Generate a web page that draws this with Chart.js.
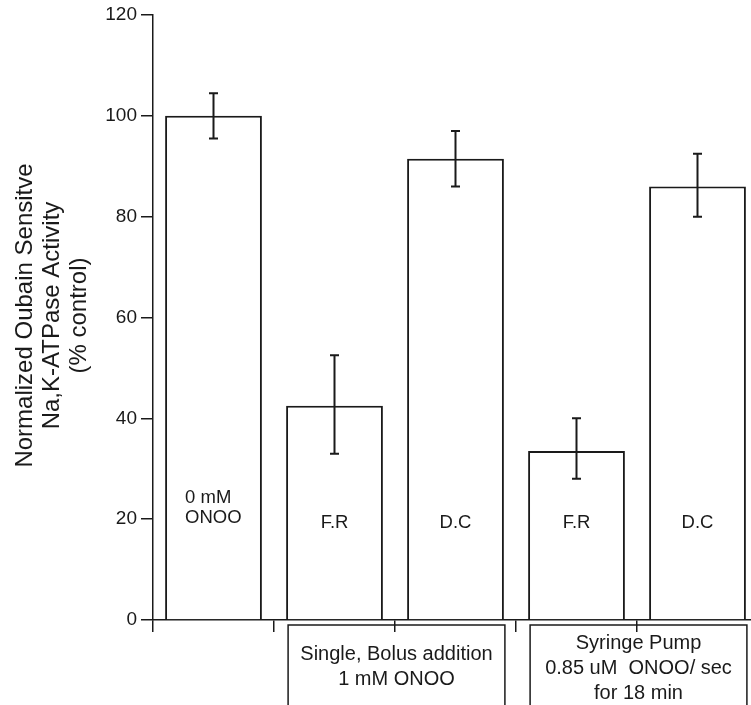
<!DOCTYPE html>
<html><head><meta charset="utf-8">
<script src="https://cdn.jsdelivr.net/npm/chart.js@4/dist/chart.umd.min.js"></script>
<style>
html,body{margin:0;padding:0;background:#fff;overflow:hidden;width:751px;height:705px}
#wrap{position:relative;width:760px;height:705px}
</style>
</head><body><div id="wrap"><canvas id="c" width="760" height="705"></canvas></div>
<script>
// ---- data ----
const categories = ['0 mM ONOO', 'F.R', 'D.C', 'F.R', 'D.C'];
const barLabels = [['0 mM', 'ONOO'], ['F.R'], ['D.C'], ['F.R'], ['D.C']];
const activity = [100, 42.5, 91.5, 33.5, 86];
const errUpper = [104.5, 52.5, 97, 40, 92.5];
const errLower = [95.5, 33, 86, 28, 80];
const yTickValues = [0, 20, 40, 60, 80, 100, 120];
const yTitle = ['Normalized Oubain Sensitve', 'Na,K-ATPase Activity', '(% control)'];
const groupFrom = [1, 3];
const groupTo = [2, 4];
const groupText = [['Single, Bolus addition', '1 mM ONOO'], ['Syringe Pump', '0.85 uM  ONOO/ sec', 'for 18 min']];

const INK = '#1a1a1a';
const FONT = 'Arial, "Liberation Sans", sans-serif';

const extras = {
  id: 'extras',
  afterDatasetsDraw(chart) {
    const ctx = chart.ctx;
    const xs = chart.scales.x, ys = chart.scales.y;
    const meta = chart.getDatasetMeta(0);
    ctx.save();
    // error bars
    ctx.strokeStyle = INK;
    ctx.lineWidth = 2;
    for (let i = 0; i < activity.length; i++) {
      const x = xs.getPixelForValue(i);
      const yt = ys.getPixelForValue(errUpper[i]);
      const yb = ys.getPixelForValue(errLower[i]);
      ctx.beginPath();
      ctx.moveTo(x, yt); ctx.lineTo(x, yb);
      ctx.moveTo(x - 4.5, yt); ctx.lineTo(x + 4.5, yt);
      ctx.moveTo(x - 4.5, yb); ctx.lineTo(x + 4.5, yb);
      ctx.stroke();
    }
    // labels inside bars
    ctx.fillStyle = INK;
    ctx.font = '18.5px ' + FONT;
    ctx.textBaseline = 'middle';
    const base = ys.getPixelForValue(20);
    for (let i = 0; i < barLabels.length; i++) {
      const bar = meta.data[i];
      const lines = barLabels[i];
      if (lines.length > 1) {
        ctx.textAlign = 'left';
        const left = bar.x - bar.width / 2 + 20;
        lines.forEach((t, k) => ctx.fillText(t, left, base - 21 + k * 20));
      } else {
        ctx.textAlign = 'center';
        ctx.fillText(lines[0], bar.x, base + 4);
      }
    }
    ctx.restore();
  },
  afterDraw(chart) {
    const ctx = chart.ctx;
    const meta = chart.getDatasetMeta(0);
    const area = chart.chartArea;
    ctx.save();
    // y axis title (three lines, rotated)
    ctx.fillStyle = INK;
    ctx.font = '24px ' + FONT;
    ctx.textAlign = 'center';
    ctx.textBaseline = 'middle';
    const cy = (area.top + area.bottom) / 2 - 2;
    const xPos = [25, 52, 79];
    yTitle.forEach((t, k) => {
      ctx.save();
      ctx.translate(xPos[k], cy);
      ctx.rotate(-Math.PI / 2);
      ctx.fillText(t, 0, 0);
      ctx.restore();
    });
    // group boxes under the axis (open at the bottom edge of the picture)
    ctx.strokeStyle = INK;
    ctx.lineWidth = 1.5;
    ctx.font = '20px ' + FONT;
    const firstLine = [654, 643];
    const lineGap = 25;
    for (let g = 0; g < groupFrom.length; g++) {
      const a = meta.data[groupFrom[g]], b = meta.data[groupTo[g]];
      const l = a.x - a.width / 2 + 2, r = b.x + b.width / 2 + 1;
      const top = area.bottom + 5, bottom = chart.height + 20;
      ctx.strokeRect(l, top, r - l, bottom - top);
      const cx = (l + r) / 2;
      groupText[g].forEach((t, k) => ctx.fillText(t, cx, firstLine[g] + k * lineGap));
    }
    ctx.restore();
  }
};

new Chart(document.getElementById('c'), {
  type: 'bar',
  data: {
    labels: categories,
    datasets: [{
      data: activity,
      backgroundColor: '#ffffff',
      borderColor: INK,
      borderWidth: 2,
      barPercentage: 0.8,
      categoryPercentage: 1.0
    }]
  },
  options: {
    responsive: false,
    animation: false,
    devicePixelRatio: 1,
    layout: { padding: { top: 15, left: 0, right: 2, bottom: 0 } },
    plugins: { legend: { display: false }, tooltip: { enabled: false } },
    scales: {
      x: {
        offset: true,
        ticks: { display: false },
        grid: { offset: true, drawOnChartArea: false, drawTicks: true, tickLength: 12, color: INK, lineWidth: 1.5 },
        border: { display: true, color: INK, width: 1.5 },
        afterFit(s) { s.height = 85; }
      },
      y: {
        min: 0, max: 120,
        afterBuildTicks(s) { s.ticks = yTickValues.map(v => ({ value: v })); },
        ticks: { font: { family: FONT, size: 19 }, color: INK, padding: 4 },
        grid: { drawOnChartArea: false, drawTicks: true, tickLength: 12, color: INK, lineWidth: 1.5 },
        border: { display: true, color: INK, width: 1.5 },
        afterFit(s) { s.width = 153; s.paddingTop = 0; s.paddingBottom = 0; }
      }
    }
  },
  plugins: [extras]
});
</script>
</body></html>
